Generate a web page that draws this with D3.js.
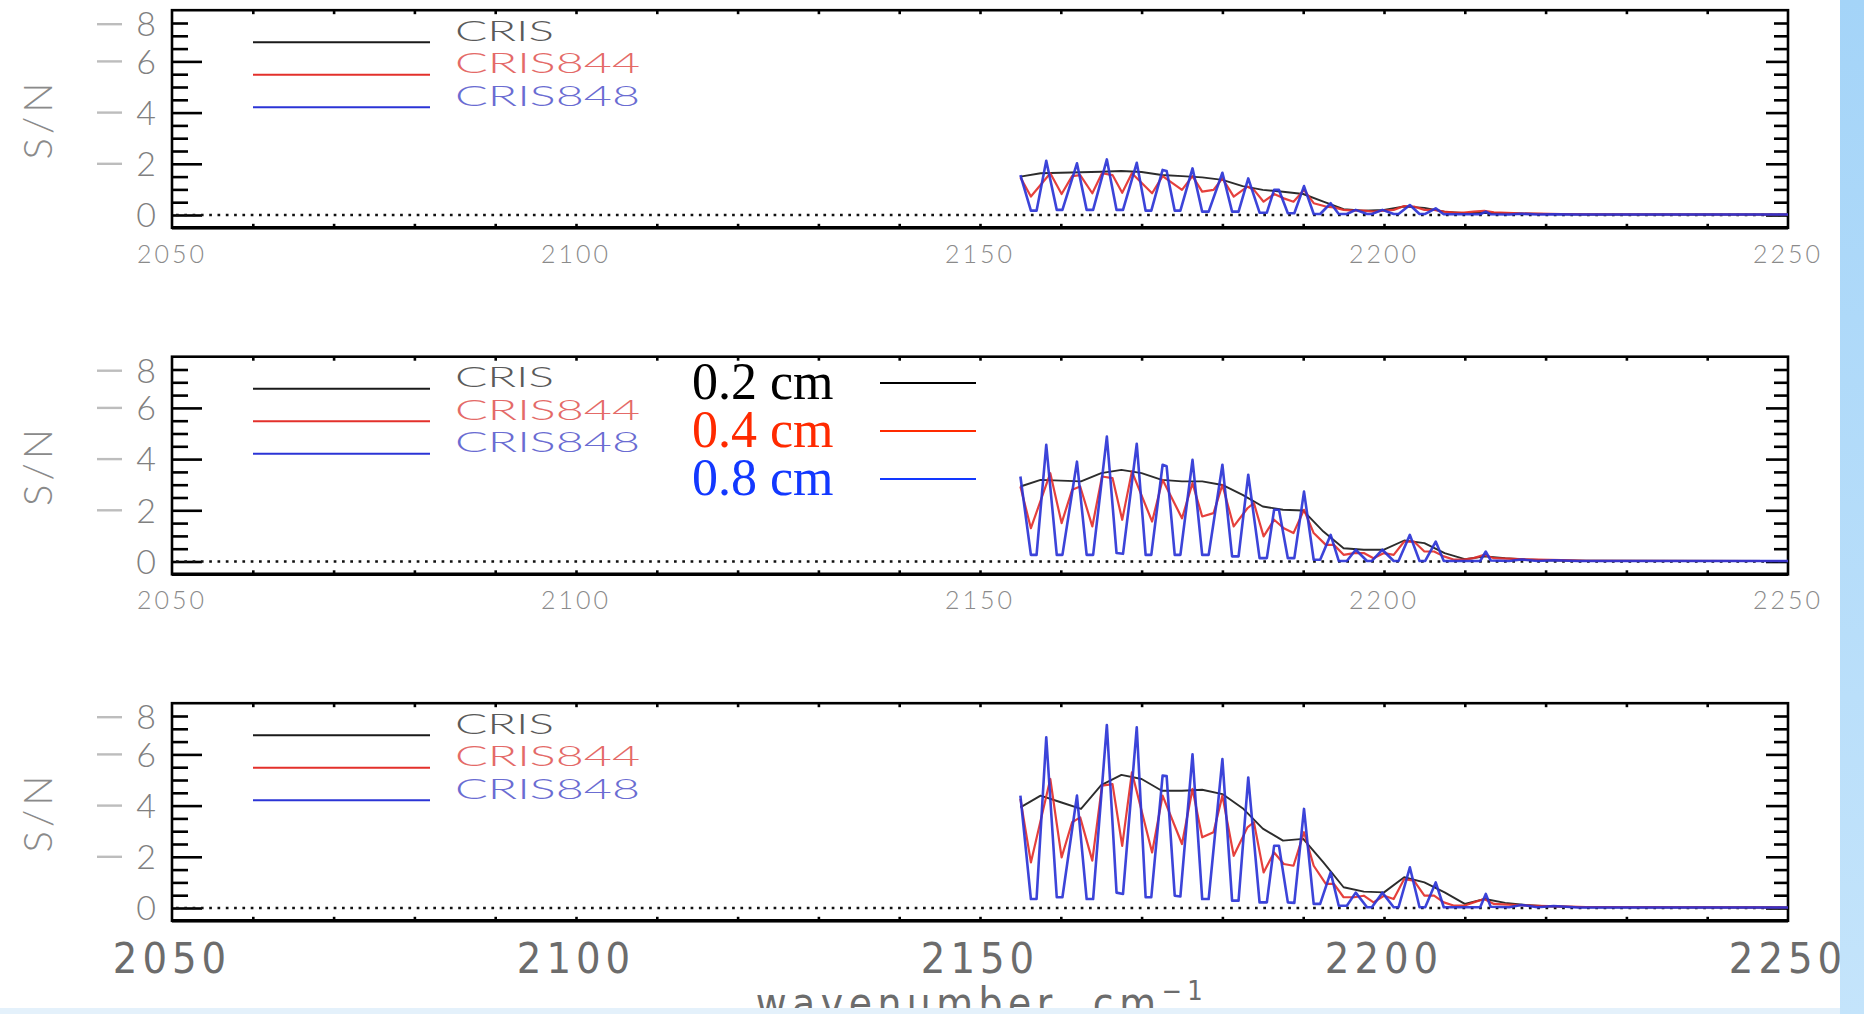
<!DOCTYPE html>
<html>
<head>
<meta charset="utf-8">
<script src="https://cdn.jsdelivr.net/npm/d3@7"></script>
<style>
  body { margin: 0; background: #fff; overflow: hidden; }
  text { font-family: Lato, Roboto, "DejaVu Sans", sans-serif; }
</style>
</head>
<body>
<div id="chart"></div>
<script>
// wavenumber samples (cm-1) for each resolution
const blueX = [2155.0, 2156.3, 2157.0, 2158.2, 2159.5, 2160.2, 2162.0, 2163.2, 2164.0, 2165.7, 2166.9, 2167.7, 2169.4, 2170.5, 2171.2, 2172.6, 2173.1, 2174.1, 2174.8, 2176.3, 2177.5, 2178.3, 2180.0, 2181.2, 2182.0, 2183.2, 2184.6, 2185.5, 2186.4, 2187.0, 2188.1, 2188.9, 2190.1, 2191.3, 2192.1, 2193.4, 2194.4, 2195.4, 2196.5, 2197.9, 2198.5, 2199.8, 2201.2, 2201.8, 2203.2, 2204.4, 2205.1, 2206.4, 2207.4, 2211.9, 2212.6, 2213.2, 2215.5, 2217.0, 2219.0, 2221.0, 2224.0, 2250.0];
const redX = [2155.0, 2156.3, 2158.7, 2160.1, 2161.4, 2162.4, 2163.9, 2165.1, 2166.4, 2167.6, 2168.8, 2171.3, 2172.6, 2175.0, 2176.3, 2177.5, 2178.9, 2180.0, 2181.4, 2183.1, 2183.9, 2185.1, 2186.4, 2187.6, 2188.8, 2190.1, 2191.3, 2192.8, 2193.8, 2195.0, 2196.3, 2197.5, 2198.7, 2200.0, 2201.2, 2202.5, 2203.7, 2205.0, 2206.2, 2207.4, 2208.7, 2209.9, 2211.1, 2212.4, 2213.6, 2216.0, 2219.0, 2222.0, 2225.0, 2250.0];
const blackX = [2155, 2157.5, 2160, 2162.5, 2165, 2167.5, 2170, 2172.5, 2175, 2177.5, 2180, 2182.5, 2185, 2187.5, 2190, 2192.5, 2195, 2197.5, 2200, 2202.5, 2205, 2207.5, 2210, 2212.5, 2215, 2217.5, 2220, 2222.5, 2225, 2250];

// panel 1 (top)
const black1 = [1.5, 1.63, 1.65, 1.67, 1.69, 1.72, 1.68, 1.56, 1.52, 1.47, 1.37, 1.13, 0.98, 0.91, 0.82, 0.52, 0.23, 0.17, 0.2, 0.33, 0.28, 0.13, 0.07, 0.09, 0.07, 0.05, 0.04, 0.03, 0.02, 0.02];
const red1 = [1.47, 0.72, 1.63, 0.82, 1.52, 1.56, 0.85, 1.63, 1.56, 0.87, 1.63, 0.85, 1.52, 0.98, 1.52, 0.91, 0.98, 1.43, 0.72, 1.11, 0.98, 0.52, 0.82, 0.65, 0.52, 0.98, 0.46, 0.33, 0.3, 0.2, 0.17, 0.17, 0.13, 0.17, 0.2, 0.35, 0.33, 0.2, 0.2, 0.13, 0.09, 0.09, 0.13, 0.16, 0.1, 0.07, 0.05, 0.04, 0.03, 0.02];
const blue1 = [1.56, 0.17, 0.17, 2.12, 0.2, 0.2, 2.02, 0.2, 0.2, 2.17, 0.2, 0.2, 2.04, 0.17, 0.17, 1.76, 1.72, 0.17, 0.17, 1.82, 0.13, 0.13, 1.65, 0.13, 0.13, 1.43, 0.09, 0.09, 0.98, 0.98, 0.07, 0.07, 1.13, 0.04, 0.04, 0.46, 0.04, 0.04, 0.2, 0.04, 0.04, 0.2, 0.04, 0.04, 0.39, 0.04, 0.04, 0.26, 0.03, 0.03, 0.13, 0.03, 0.02, 0.05, 0.02, 0.03, 0.02, 0.02];

// panel 2 (middle)
const black2 = [2.93, 3.19, 3.16, 3.13, 3.45, 3.58, 3.45, 3.19, 3.13, 3.13, 2.99, 2.6, 2.15, 2.02, 1.99, 1.17, 0.52, 0.46, 0.46, 0.82, 0.72, 0.33, 0.09, 0.2, 0.13, 0.08, 0.05, 0.04, 0.03, 0.02];
const red2 = [2.93, 1.3, 3.45, 1.5, 2.8, 2.93, 1.37, 3.32, 3.26, 1.63, 3.52, 1.56, 3.19, 1.69, 3.06, 1.76, 1.89, 2.99, 1.37, 2.08, 2.28, 0.98, 1.63, 1.3, 1.11, 2.02, 1.11, 0.65, 0.65, 0.26, 0.33, 0.33, 0.13, 0.33, 0.26, 0.78, 0.78, 0.39, 0.39, 0.2, 0.07, 0.07, 0.13, 0.26, 0.13, 0.1, 0.07, 0.05, 0.03, 0.02];
const blue2 = [3.32, 0.26, 0.26, 4.56, 0.26, 0.26, 3.9, 0.26, 0.26, 4.88, 0.33, 0.3, 4.6, 0.26, 0.26, 3.78, 3.72, 0.26, 0.26, 3.97, 0.26, 0.26, 3.78, 0.2, 0.2, 3.39, 0.13, 0.13, 2.02, 2.02, 0.13, 0.13, 2.73, 0.07, 0.07, 1.04, 0.02, 0.02, 0.46, 0.02, 0.02, 0.46, 0.02, 0.02, 1.04, 0.02, 0.02, 0.78, 0.02, 0.02, 0.39, 0.04, 0.02, 0.08, 0.02, 0.05, 0.02, 0.02];

// panel 3 (bottom)
const black3 = [3.93, 4.39, 4.13, 3.87, 4.8, 5.2, 5.04, 4.58, 4.58, 4.62, 4.45, 3.9, 3.1, 2.63, 2.7, 1.78, 0.81, 0.64, 0.61, 1.2, 1.0, 0.61, 0.16, 0.35, 0.2, 0.12, 0.07, 0.05, 0.03, 0.02];
const red3 = [4.26, 1.78, 5.04, 1.98, 3.35, 3.54, 1.85, 4.78, 4.84, 2.43, 5.3, 2.17, 4.39, 2.5, 4.65, 2.76, 2.96, 4.39, 2.04, 3.15, 3.35, 1.39, 2.17, 1.72, 1.65, 2.96, 1.65, 0.94, 0.94, 0.42, 0.42, 0.48, 0.22, 0.48, 0.35, 1.13, 1.07, 0.48, 0.48, 0.22, 0.09, 0.09, 0.22, 0.35, 0.16, 0.12, 0.08, 0.06, 0.04, 0.02];
const blue3 = [4.39, 0.35, 0.35, 6.67, 0.42, 0.42, 4.39, 0.35, 0.35, 7.15, 0.6, 0.55, 7.06, 0.42, 0.42, 5.17, 5.15, 0.48, 0.45, 6.0, 0.35, 0.35, 5.82, 0.29, 0.29, 5.1, 0.22, 0.22, 2.43, 2.43, 0.22, 0.2, 3.87, 0.16, 0.16, 1.39, 0.09, 0.09, 0.6, 0.03, 0.03, 0.6, 0.03, 0.03, 1.59, 0.03, 0.03, 1.0, 0.03, 0.03, 0.55, 0.05, 0.03, 0.12, 0.03, 0.08, 0.02, 0.02];

const xTicks = [2050, 2100, 2150, 2200, 2250];
const yTicks = [0, 2, 4, 6, 8];
const legendNames = ["CRIS", "CRIS844", "CRIS848"];
const opdLabels = ["0.2 cm", "0.4 cm", "0.8 cm"];

const W = 1864, H = 1014;
const LINE_COLORS = ["#1a1a1a", "#e3302b", "#2b34d6"];
const LINE_WIDTHS = [1.9, 2.2, 2.6];
const TEXT_COLORS = ["#5a5a5a", "#e46a68", "#6a6cd2"];
const LEGEND_WIDTHS = [99, 185, 185];
const OPD_COLORS = ["#000000", "#ff2a00", "#1238ff"];

const panels = [
  { y0: 215, series: [[blackX, black1], [redX, red1], [blueX, blue1]], big: false },
  { y0: 561.5, series: [[blackX, black2], [redX, red2], [blueX, blue2]], big: false },
  { y0: 908, series: [[blackX, black3], [redX, red3], [blueX, blue3]], big: true }
];

const svg = d3.select("#chart").append("svg")
  .attr("width", W).attr("height", H)
  .style("display", "block");

const x = d3.scaleLinear().domain([2050, 2250]).range([172, 1788]);
const UNIT = 25.6; // px per S/N unit

panels.forEach((p, pi) => {
  const y = d3.scaleLinear().domain([-0.5, 8]).range([p.y0 + 0.5 * UNIT, p.y0 - 8 * UNIT]);
  const g = svg.append("g");
  const top = y(8), bot = y(-0.5);

  // y axes: minor and major ticks, inward on both sides
  const minorY = d3.range(0.5, 8, 0.5).filter(v => v % 2 !== 0);
  const majorY = [0, 2, 4, 6];
  const axL = g.append("g").attr("transform", `translate(${x.range()[0]},0)`);
  axL.call(d3.axisRight(y).tickValues(minorY).tickSize(16).tickFormat(""));
  axL.append("g").call(d3.axisRight(y).tickValues(majorY).tickSize(30).tickFormat(""));
  const axR = g.append("g").attr("transform", `translate(${x.range()[1]},0)`);
  axR.call(d3.axisLeft(y).tickValues(minorY).tickSize(14).tickFormat(""));
  axR.append("g").call(d3.axisLeft(y).tickValues(majorY).tickSize(22).tickFormat(""));

  // x axes: small inward ticks every 10
  const xMinor = d3.range(2060, 2250, 10);
  g.append("g").attr("transform", `translate(0,${bot})`)
    .call(d3.axisTop(x).tickValues(xMinor).tickSize(4).tickFormat(""));
  g.append("g").attr("transform", `translate(0,${top})`)
    .call(d3.axisBottom(x).tickValues(xMinor).tickSize(4).tickFormat(""));
  g.selectAll(".domain").remove();
  g.selectAll(".tick line").attr("stroke", "#000").attr("stroke-width", 2.6);

  // frame
  g.append("rect")
    .attr("x", x(2050)).attr("y", top)
    .attr("width", x(2250) - x(2050)).attr("height", bot - top)
    .attr("fill", "none").attr("stroke", "#000").attr("stroke-width", 2.6);
  g.append("line")
    .attr("x1", x(2050)).attr("x2", x(2250)).attr("y1", bot).attr("y2", bot)
    .attr("stroke", "#000").attr("stroke-width", 3.4);

  // zero line, dotted
  g.append("line")
    .attr("x1", x(2050) + 4).attr("x2", x(2250)).attr("y1", y(0)).attr("y2", y(0))
    .attr("stroke", "#111").attr("stroke-width", 2.7)
    .attr("stroke-dasharray", "2.7 5.6");

  // y tick labels: long pale minus, grey digit
  yTicks.forEach(v => {
    const ty = Math.max(y(v), top + 14);
    if (v !== 0) {
      g.append("line")
        .attr("x1", 97).attr("x2", 122).attr("y1", ty).attr("y2", ty)
        .attr("stroke", "#bdbdbd").attr("stroke-width", 2.4);
    }
    g.append("text")
      .attr("x", 156).attr("y", ty).attr("dy", "0.36em")
      .attr("text-anchor", "end")
      .attr("fill", "#808080")
      .style("font-size", "34px").style("font-weight", 300)
      .text(v);
  });

  // y title
  g.append("text")
    .attr("transform", `translate(38,${(top + bot) / 2}) rotate(-90)`)
    .attr("text-anchor", "middle").attr("dy", "0.36em")
    .attr("fill", "#8a8a8a")
    .style("font-size", "40px").style("font-weight", 300).style("letter-spacing", "4px")
    .text("S/N");

  // x tick labels
  xTicks.forEach(v => {
    const t = g.append("text")
      .attr("x", x(v)).attr("text-anchor", "middle");
    if (p.big) {
      t.attr("y", 958).attr("dy", "0.36em")
        .attr("fill", "#6c6c6c")
        .style("font-family", "'Liberation Sans Narrow', 'DejaVu Sans Condensed', sans-serif")
        .style("font-size", "43px").style("letter-spacing", "5px");
    } else {
      t.attr("y", bot + 26).attr("dy", "0.36em")
        .attr("fill", "#8a8a8a")
        .style("font-size", "25px").style("font-weight", 300).style("letter-spacing", "3px");
    }
    t.text(v);
  });

  // data lines
  const line = d3.line().x(d => x(d[0])).y(d => y(d[1]));
  p.series.forEach(([xs, ys], si) => {
    g.append("path")
      .datum(d3.zip(xs, ys))
      .attr("d", line)
      .attr("fill", "none")
      .attr("stroke", LINE_COLORS[si])
      .attr("stroke-width", LINE_WIDTHS[si])
      .attr("stroke-linejoin", "round")
      .attr("opacity", 0.92);
  });

  // inner legend
  legendNames.forEach((name, i) => {
    const ly = top + 32 + i * 32.5;
    g.append("line")
      .attr("x1", 253).attr("x2", 430).attr("y1", ly).attr("y2", ly)
      .attr("stroke", LINE_COLORS[i]).attr("stroke-width", 2);
    g.append("text")
      .attr("x", 455).attr("y", ly - 11).attr("dy", "0.36em")
      .attr("fill", TEXT_COLORS[i])
      .attr("textLength", LEGEND_WIDTHS[i]).attr("lengthAdjust", "spacingAndGlyphs")
      .style("font-size", "27px").style("font-weight", 300)
      .text(name);
  });
});

// OPD legend laid over the middle panel
opdLabels.forEach((lab, i) => {
  const cy = 383 + i * 48;
  svg.append("text")
    .attr("x", 692).attr("y", cy + 16)
    .attr("fill", OPD_COLORS[i])
    .style("font-family", "'Liberation Serif', 'Times New Roman', serif")
    .style("font-size", "52px")
    .text(lab);
  svg.append("line")
    .attr("x1", 880).attr("x2", 976).attr("y1", cy).attr("y2", cy)
    .attr("stroke", OPD_COLORS[i]).attr("stroke-width", 2);
});

// x title, partly hidden by the slide edge
const xt = svg.append("text")
  .attr("x", 982).attr("y", 1018).attr("text-anchor", "middle")
  .attr("fill", "#6c6c6c")
  .style("font-family", "'Liberation Sans Narrow', 'DejaVu Sans Condensed', sans-serif")
  .style("font-size", "42px").style("letter-spacing", "5.5px");
xt.append("tspan").text("wavenumber, cm");
xt.append("tspan").attr("dy", -18).style("font-size", "27px").text("\u22121");

// slide background strips
const grad = svg.append("defs").append("linearGradient")
  .attr("id", "edge").attr("x1", 0).attr("x2", 0).attr("y1", 0).attr("y2", 1);
grad.append("stop").attr("offset", 0).attr("stop-color", "#a4d4f8");
grad.append("stop").attr("offset", 1).attr("stop-color", "#c4e4fb");
svg.append("rect").attr("x", 0).attr("y", 1008).attr("width", W).attr("height", 6).attr("fill", "#e4f1fb");
svg.append("rect").attr("x", 1840).attr("y", 0).attr("width", 24).attr("height", H).attr("fill", "url(#edge)");
</script>
</body>
</html>
